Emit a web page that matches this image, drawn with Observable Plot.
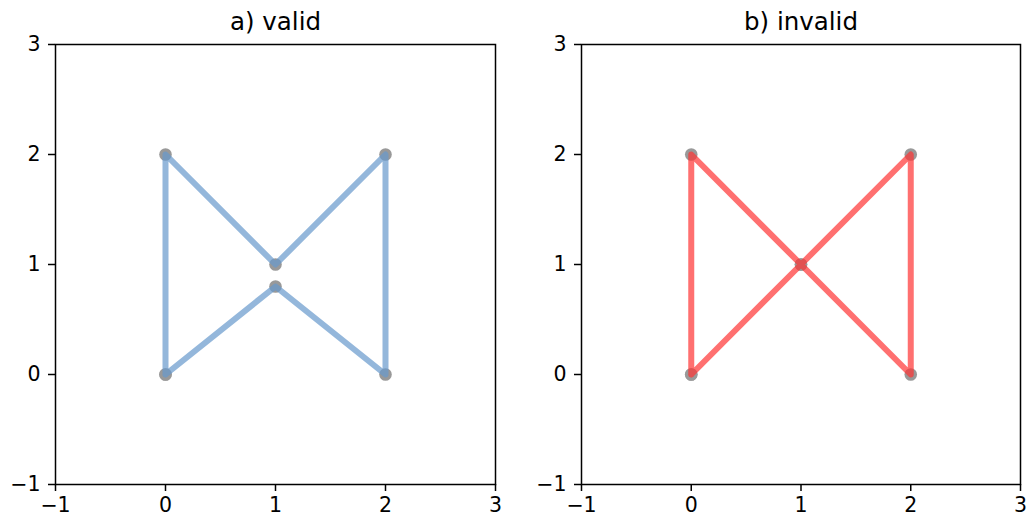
<!DOCTYPE html>
<html>
<head>
<meta charset="utf-8">
<script src="https://cdn.jsdelivr.net/npm/d3@7"></script>
<script src="https://cdn.jsdelivr.net/npm/@observablehq/plot@0.6"></script>
<style>
  html, body { margin: 0; padding: 0; background: #fff; }
  #wrap { position: relative; width: 1027px; height: 518px; font-family: "DejaVu Sans", sans-serif; overflow: hidden; }
  #left, #right { position: absolute; top: 0; }
  #left { left: 0; }
  #right { left: 526px; }
  svg { overflow: visible; }
</style>
</head>
<body>
<div id="wrap"><div id="left"></div><div id="right"></div></div>
<script>
// Vertices of the ring (closing back to the start)
const validX   = [0, 0, 1, 2, 2, 1,   0];
const validY   = [0, 2, 1, 2, 0, 0.8, 0];
const invalidX = [0, 0, 1, 2, 2, 1, 0];
const invalidY = [0, 2, 1, 2, 0, 1, 0];
const titles = ["a) valid", "b) invalid"];
const lineColors = ["#6699cc", "#ff3333"];
const tickValues = [-1, 0, 1, 2, 3];

const fmt = d => d < 0 ? "\u2212" + Math.abs(d) : String(d);

function panel(xs, ys, title, color, width, mr) {
  const data = xs.map((x, i) => ({x, y: ys[i]}));
  return Plot.plot({
    width, height: 518,
    marginLeft: 55, marginRight: mr, marginTop: 44, marginBottom: 34,
    style: {fontFamily: "DejaVu Sans, sans-serif", color: "black", background: "white", overflow: "visible"},
    x: {domain: [-1, 3]},
    y: {domain: [-1, 3]},
    marks: [
      Plot.axisX({ticks: tickValues, tickFormat: fmt, tickSize: 7, tickPadding: 6, fontSize: 20.5, label: null, stroke: "black", strokeWidth: 1.5}),
      Plot.axisY({ticks: tickValues, tickFormat: fmt, tickSize: 7, tickPadding: 8, fontSize: 20.5, label: null, stroke: "black", strokeWidth: 1.5}),
      Plot.dot(data, {x: "x", y: "y", r: 6.3, fill: "#999999", stroke: "none"}),
      Plot.line(data, {x: "x", y: "y", stroke: color, strokeOpacity: 0.7, strokeWidth: 6,
                       strokeLinecap: "round", strokeLinejoin: "round", curve: "linear"}),
      Plot.frame({stroke: "black", strokeWidth: 1.5}),
      Plot.text([title], {frameAnchor: "top", dy: -22, fontSize: 24.5, lineAnchor: "middle", fill: "black"})
    ]
  });
}

document.getElementById("left").append(panel(validX, validY, titles[0], lineColors[0], 520, 25));
document.getElementById("right").append(panel(invalidX, invalidY, titles[1], lineColors[1], 501, 7));
</script>
</body>
</html>
